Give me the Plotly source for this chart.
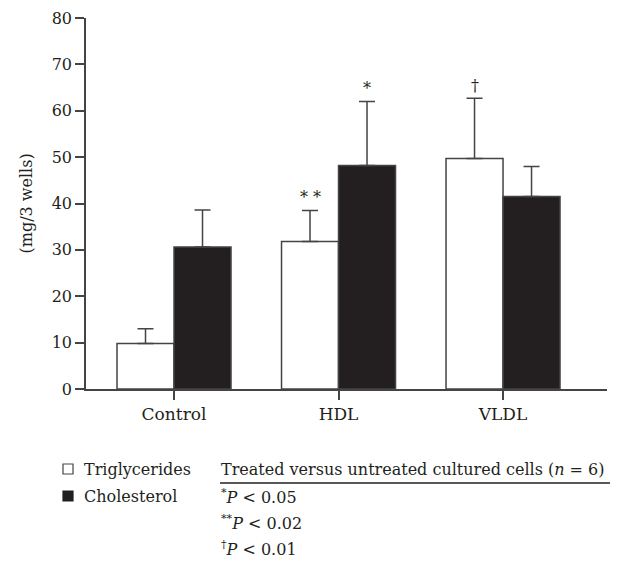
import plotly.graph_objects as go

categories = ["Control", "HDL", "VLDL"]
triglycerides = [9.8, 31.8, 49.7]
triglycerides_err = [3.2, 6.7, 13.0]
cholesterol = [30.6, 48.2, 41.5]
cholesterol_err = [8.0, 13.8, 6.5]
# significance marks: (category index, series, mark)
sig_marks = [(1, "tri", "* *"), (1, "chol", "*"), (2, "tri", "†")]
y_ticks = [0, 10, 20, 30, 40, 50, 60, 70, 80]

FONT = "DejaVu Serif"
TXT = "#231f20"
LINE = "#444444"
BARGAP = 0.307

# page offset (body margin) and plot area in screen pixels
OFF = 8
W, H = 625 - OFF, 562 - OFF
X0, X1, Y0, Y1 = 86, 607, 18, 389  # plot area on screen
L, T = X0 - OFF, Y0 - OFF
R, B = W - (X1 - OFF), H - (Y1 - OFF)
PW, PH = X1 - X0, Y1 - Y0


def px(x):
    return (x - X0) / PW


def py(y):
    return (Y1 - y) / PH


fig = go.Figure()
fig.add_trace(go.Bar(
    name="Triglycerides", x=categories, y=triglycerides,
    marker=dict(color="white", line=dict(color=LINE, width=1.5)),
    error_y=dict(type="data", symmetric=False, array=triglycerides_err,
                 arrayminus=[0] * len(categories), color=LINE, thickness=1.5, width=8),
))
fig.add_trace(go.Bar(
    name="Cholesterol", x=categories, y=cholesterol,
    marker=dict(color="#231f20", line=dict(color=LINE, width=1.5)),
    error_y=dict(type="data", symmetric=False, array=cholesterol_err,
                 arrayminus=[0] * len(categories), color=LINE, thickness=1.5, width=8),
))

annotations = []
off = (1 - BARGAP) / 4
for idx, series, mark in sig_marks:
    if series == "tri":
        xv = idx - off
        yv = triglycerides[idx] + triglycerides_err[idx]
    else:
        xv = idx + off
        yv = cholesterol[idx] + cholesterol_err[idx]
    annotations.append(dict(x=xv, y=yv, xref="x", yref="y", text=mark, showarrow=False,
                            yanchor="bottom", yshift=1, font=dict(family=FONT, size=16, color=TXT)))

# y-axis title
annotations.append(dict(x=px(26), y=0.5, xref="paper", yref="paper", text="(mg/3 wells)",
                        textangle=-90, showarrow=False, xanchor="center", yanchor="middle",
                        font=dict(family=FONT, size=16, color=TXT)))

# legend text
leg_font = dict(family=FONT, size=16, color=TXT)
annotations.append(dict(x=px(82), y=py(469), xref="paper", yref="paper", text="Triglycerides",
                        showarrow=False, xanchor="left", yanchor="middle", font=leg_font))
annotations.append(dict(x=px(82), y=py(496), xref="paper", yref="paper", text="Cholesterol",
                        showarrow=False, xanchor="left", yanchor="middle", font=leg_font))
annotations.append(dict(x=px(219), y=py(469), xref="paper", yref="paper",
                        text="Treated versus untreated cultured cells (<i>n</i> = 6)",
                        showarrow=False, xanchor="left", yanchor="middle", font=leg_font))
annotations.append(dict(x=px(219), y=py(496), xref="paper", yref="paper",
                        text="<sup>*</sup><i>P</i> &lt; 0.05",
                        showarrow=False, xanchor="left", yanchor="middle", font=leg_font))
annotations.append(dict(x=px(219), y=py(522), xref="paper", yref="paper",
                        text="<sup>**</sup><i>P</i> &lt; 0.02",
                        showarrow=False, xanchor="left", yanchor="middle", font=leg_font))
annotations.append(dict(x=px(219), y=py(548), xref="paper", yref="paper",
                        text="<sup>†</sup><i>P</i> &lt; 0.01",
                        showarrow=False, xanchor="left", yanchor="middle", font=leg_font))

shapes = [
    dict(type="rect", xref="paper", yref="paper", x0=px(63), x1=px(73), y0=py(474), y1=py(464),
         line=dict(color=LINE, width=1.2), fillcolor="white"),
    dict(type="rect", xref="paper", yref="paper", x0=px(63), x1=px(73), y0=py(501), y1=py(491),
         line=dict(color="#231f20", width=1.2), fillcolor="#231f20"),
    dict(type="line", xref="paper", yref="paper", x0=px(220), x1=px(610), y0=py(483), y1=py(483),
         line=dict(color=TXT, width=1.5)),
]

fig.update_layout(
    width=W, height=H,
    margin=dict(l=L, r=R, t=T, b=B, autoexpand=False),
    paper_bgcolor="white", plot_bgcolor="white",
    barmode="group", bargap=BARGAP, bargroupgap=0,
    showlegend=False,
    font=dict(family=FONT, size=16, color=TXT),
    annotations=annotations, shapes=shapes,
    xaxis=dict(range=[-0.535, 2.632], showline=True, linecolor=LINE, linewidth=1.5,
               ticks="outside", ticklen=9, tickwidth=1.5, tickcolor=LINE, automargin=False,
               showgrid=False, zeroline=False, fixedrange=True,
               tickfont=dict(family=FONT, size=17, color=TXT)),
    yaxis=dict(range=[0, 80], tickvals=y_ticks, showline=True, linecolor=LINE, linewidth=1.5,
               ticks="outside", ticklen=9, tickwidth=1.5, tickcolor=LINE, automargin=False,
               showgrid=False, zeroline=False, fixedrange=True, ticklabeloverflow="allow",
               tickfont=dict(family=FONT, size=16, color=TXT)),
)

fig.write_html("out.html")
